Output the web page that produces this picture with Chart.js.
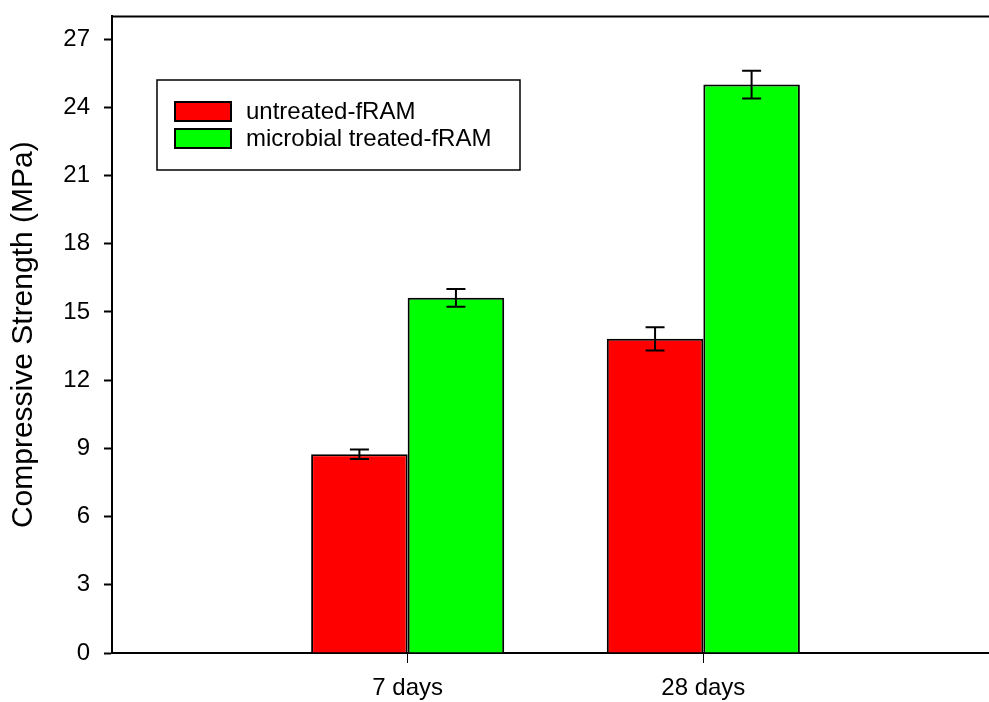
<!DOCTYPE html>
<html>
<head>
<meta charset="utf-8">
<script src="https://cdn.jsdelivr.net/npm/chart.js@4"></script>
<style>
  html, body { margin: 0; padding: 0; background: #fff; overflow: hidden; }
  canvas { display: block; margin-top: -12px; }
</style>
</head>
<body>
<canvas id="chart" width="999" height="714"></canvas>
<script>
// values (MPa)
const categories = ['7 days', '28 days'];
const seriesNames = ['untreated-fRAM', 'microbial treated-fRAM'];
const untreated = [8.74, 13.82];
const treated = [15.62, 25.0];
const untreatedErr = [0.21, 0.51];
const treatedErr = [0.39, 0.61];
const yTicks = [0, 3, 6, 9, 12, 15, 18, 21, 24, 27];

const FONT = '"Liberation Sans", Arial, sans-serif';
const SHIFT = 12; // canvas is pulled up by this much in the css

// empty slots either side so the two groups sit at 1/3 and 2/3 of the axis
function pad(arr) {
  return [null].concat(arr, [null]);
}

// draws the error bars from the dataset values through the y scale
const errorBars = {
  id: 'errorBars',
  afterDatasetsDraw(chart) {
    const ctx = chart.ctx;
    const y = chart.scales.y;
    ctx.save();
    ctx.strokeStyle = '#000';
    ctx.lineWidth = 2;
    chart.data.datasets.forEach((ds, i) => {
      chart.getDatasetMeta(i).data.forEach((bar, j) => {
        const v = ds.data[j];
        const e = ds.errors[j];
        if (v == null || e == null) return;
        const yt = y.getPixelForValue(v + e);
        const yb = y.getPixelForValue(v - e);
        const x = bar.x;
        ctx.beginPath();
        ctx.moveTo(x, yt); ctx.lineTo(x, yb);
        ctx.moveTo(x - 9.5, yt); ctx.lineTo(x + 9.5, yt);
        ctx.moveTo(x - 9.5, yb); ctx.lineTo(x + 9.5, yb);
        ctx.stroke();
      });
    });
    ctx.restore();
  }
};

// top frame line plus the boxed legend inside the plot
const frameAndLegend = {
  id: 'frameAndLegend',
  afterDraw(chart) {
    const ctx = chart.ctx;
    const area = chart.chartArea;
    ctx.save();
    ctx.strokeStyle = '#000';
    ctx.lineWidth = 2;
    ctx.beginPath();
    ctx.moveTo(area.left - 1, area.top);
    ctx.lineTo(area.right + 20, area.top);
    ctx.stroke();

    // legend box
    ctx.translate(0, SHIFT);
    ctx.lineWidth = 1.5;
    ctx.strokeRect(157, 80, 363, 90);
    ctx.font = '24px ' + FONT;
    ctx.textBaseline = 'middle';
    ctx.textAlign = 'left';
    chart.data.datasets.forEach((ds, i) => {
      const top = 102 + i * 27;
      ctx.fillStyle = ds.backgroundColor;
      ctx.fillRect(175, top, 56, 19);
      ctx.lineWidth = 2;
      ctx.strokeRect(175, top, 56, 19);
      ctx.fillStyle = '#000';
      ctx.fillText(ds.label, 246, top + 10);
    });
    ctx.restore();
  }
};

new Chart(document.getElementById('chart'), {
  type: 'bar',
  data: {
    labels: pad(categories),
    datasets: [
      {
        label: seriesNames[0],
        data: pad(untreated),
        errors: pad(untreatedErr),
        backgroundColor: '#ff0000',
        borderColor: '#000',
        borderWidth: 2
      },
      {
        label: seriesNames[1],
        data: pad(treated),
        errors: pad(treatedErr),
        backgroundColor: '#00ff00',
        borderColor: '#000',
        borderWidth: 2
      }
    ]
  },
  plugins: [errorBars, frameAndLegend],
  options: {
    responsive: false,
    animation: false,
    layout: { padding: { top: 3, left: 0, right: 0, bottom: 0 } },
    datasets: {
      bar: { categoryPercentage: 0.653, barPercentage: 1.0 }
    },
    plugins: {
      legend: { display: false },
      tooltip: { enabled: false }
    },
    scales: {
      x: {
        offset: false,
        grid: {
          offset: false,
          drawOnChartArea: false,
          tickLength: 10,
          tickWidth: 1,
          tickColor: (c) => (c.tick && c.tick.label ? '#000' : 'rgba(0,0,0,0)')
        },
        border: { color: '#000', width: 2 },
        ticks: {
          color: '#000',
          padding: 11,
          maxRotation: 0,
          autoSkip: false,
          font: { family: FONT, size: 24 }
        },
        afterFit(scale) { scale.height = 49; }
      },
      y: {
        min: 0,
        max: 28,
        grid: {
          drawOnChartArea: false,
          tickLength: 8,
          tickWidth: 2,
          tickColor: '#000'
        },
        border: { color: '#000', width: 2 },
        afterBuildTicks(scale) {
          scale.ticks = yTicks.map(v => ({ value: v }));
        },
        ticks: {
          color: '#000',
          padding: 14,
          font: { family: FONT, size: 24 }
        },
        title: {
          display: true,
          text: 'Compressive Strength (MPa)',
          color: '#000',
          padding: { top: 6, bottom: 0 },
          font: { family: FONT, size: 30 }
        },
        afterFit(scale) { scale.width = 112; }
      }
    }
  }
});
</script>
</body>
</html>
